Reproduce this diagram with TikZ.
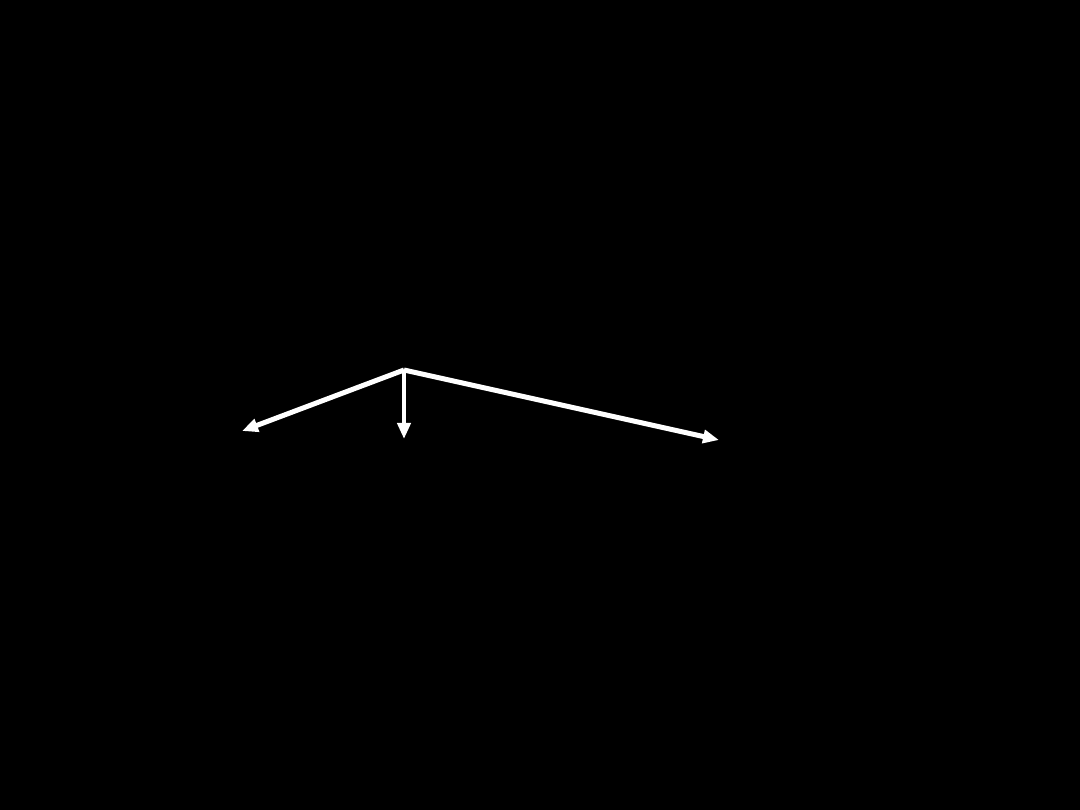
\documentclass[tikz,border=0pt]{standalone}
\usetikzlibrary{arrows.meta}
\begin{document}
\begin{tikzpicture}[x=1pt,y=-1pt,
  conn/.style={draw=white,line width=5pt,-{Triangle[length=16pt,width=13pt]}},
  connthin/.style={draw=white,line width=4pt,-{Triangle[length=16pt,width=13pt]}}]
\fill[black] (0,0) rectangle (1080,810);
\useasboundingbox (0,0) rectangle (1080,810);
\coordinate (o) at (404,370);
\coordinate (l) at (242,431);
\coordinate (d) at (404,439);
\coordinate (r) at (719,440);
\draw[conn] (o) -- (l);
\draw[connthin] (o) -- (d);
\draw[conn] (o) -- (r);
\end{tikzpicture}
\end{document}
